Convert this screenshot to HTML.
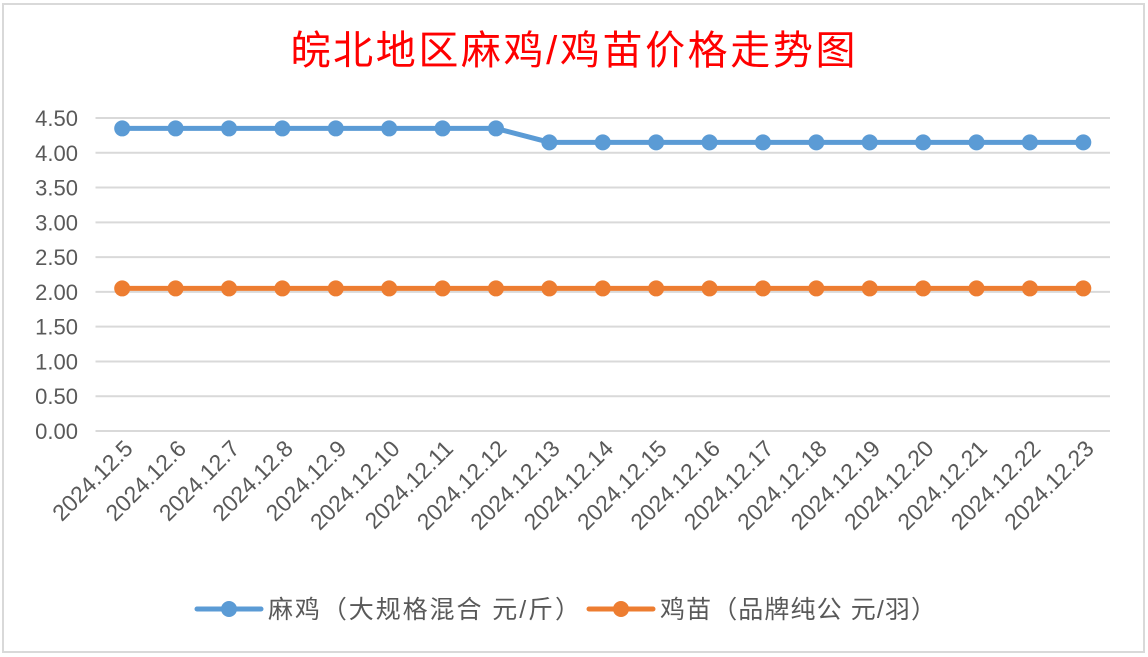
<!DOCTYPE html>
<html><head><meta charset="utf-8"><style>
body{margin:0;background:#fff;width:1148px;height:657px;overflow:hidden}
svg{display:block}
text{font-family:"Liberation Sans","Noto Sans CJK SC",sans-serif}
</style></head><body>
<svg width="1148" height="657">
<rect x="3" y="4" width="1141" height="648" fill="#fff" stroke="#d9d9d9" stroke-width="2"/>
<text x="573" y="64" text-anchor="middle" font-size="40" fill="#ff0000" font-family="'Noto Serif CJK SC','Noto Sans CJK SC',serif" textLength="565">皖北地区麻鸡/鸡苗价格走势图</text>
<g id="grid"></g><g id="yt"></g><g id="xt"></g><g id="series"></g>
<g>
<line x1="197" y1="609" x2="261" y2="609" stroke="#5b9bd5" stroke-width="5" stroke-linecap="round"/>
<circle cx="229" cy="609" r="8" fill="#5b9bd5"/>
<text x="268" y="618" font-size="25" fill="#595959" font-family="'Noto Serif CJK SC',serif" textLength="312">麻鸡（大规格混合 元/斤）</text>
<line x1="589" y1="609" x2="653" y2="609" stroke="#ed7d31" stroke-width="5" stroke-linecap="round"/>
<circle cx="621" cy="609" r="8" fill="#ed7d31"/>
<text x="660" y="618" font-size="25" fill="#595959" font-family="'Noto Serif CJK SC',serif" textLength="276">鸡苗（品牌纯公 元/羽）</text>
</g>
</svg>
<script>
const categories=["2024.12.5","2024.12.6","2024.12.7","2024.12.8","2024.12.9","2024.12.10","2024.12.11","2024.12.12","2024.12.13","2024.12.14","2024.12.15","2024.12.16","2024.12.17","2024.12.18","2024.12.19","2024.12.20","2024.12.21","2024.12.22","2024.12.23"];
const majiValues=[4.35,4.35,4.35,4.35,4.35,4.35,4.35,4.35,4.15,4.15,4.15,4.15,4.15,4.15,4.15,4.15,4.15,4.15,4.15];
const jimiaoValues=[2.05,2.05,2.05,2.05,2.05,2.05,2.05,2.05,2.05,2.05,2.05,2.05,2.05,2.05,2.05,2.05,2.05,2.05,2.05];
const yTicks=[0,0.5,1,1.5,2,2.5,3,3.5,4,4.5];
const NS="http://www.w3.org/2000/svg";
const L=95.5,R=1110,Y0=431,Y1=118,YMAX=4.5;
const step=(R-L)/categories.length;
const x=i=>L+step*(i+0.5);
const y=v=>Y0-(v/YMAX)*(Y0-Y1);
function mk(t,a,p){const e=document.createElementNS(NS,t);for(const k in a)e.setAttribute(k,a[k]);p.appendChild(e);return e;}
const grid=document.getElementById('grid'),yt=document.getElementById('yt'),xt=document.getElementById('xt'),se=document.getElementById('series');
yTicks.forEach(v=>{
 const l=mk('line',{x1:L,x2:R,y1:y(v),y2:y(v),stroke:'#d9d9d9','stroke-width':2},grid);
 
 
 const t=mk('text',{x:78,y:y(v)+8,'text-anchor':'end','font-size':22,fill:'#595959'},yt);
 t.textContent=v.toFixed(2);
 
 
});
categories.forEach((c,i)=>{
 const tx=x(i)+12,ty=450;
 const t=mk('text',{x:tx,y:ty,'text-anchor':'end','font-size':23,fill:'#595959',transform:`rotate(-45 ${tx} ${ty})`},xt);
 t.textContent=c;
 
 
});
function series(vals,color,name){
 const g=mk('g',{},se);
 
 
 mk('polyline',{points:vals.map((v,i)=>x(i)+','+y(v)).join(' '),fill:'none',stroke:color,'stroke-width':5,'stroke-linejoin':'round'},g);
 vals.forEach((v,i)=>{const c=mk('circle',{cx:x(i),cy:y(v),r:8,fill:color},g);
  
  });
}
series(majiValues,'#5b9bd5','maji-series');
series(jimiaoValues,'#ed7d31','jimiao-series');
</script>
</body></html>
